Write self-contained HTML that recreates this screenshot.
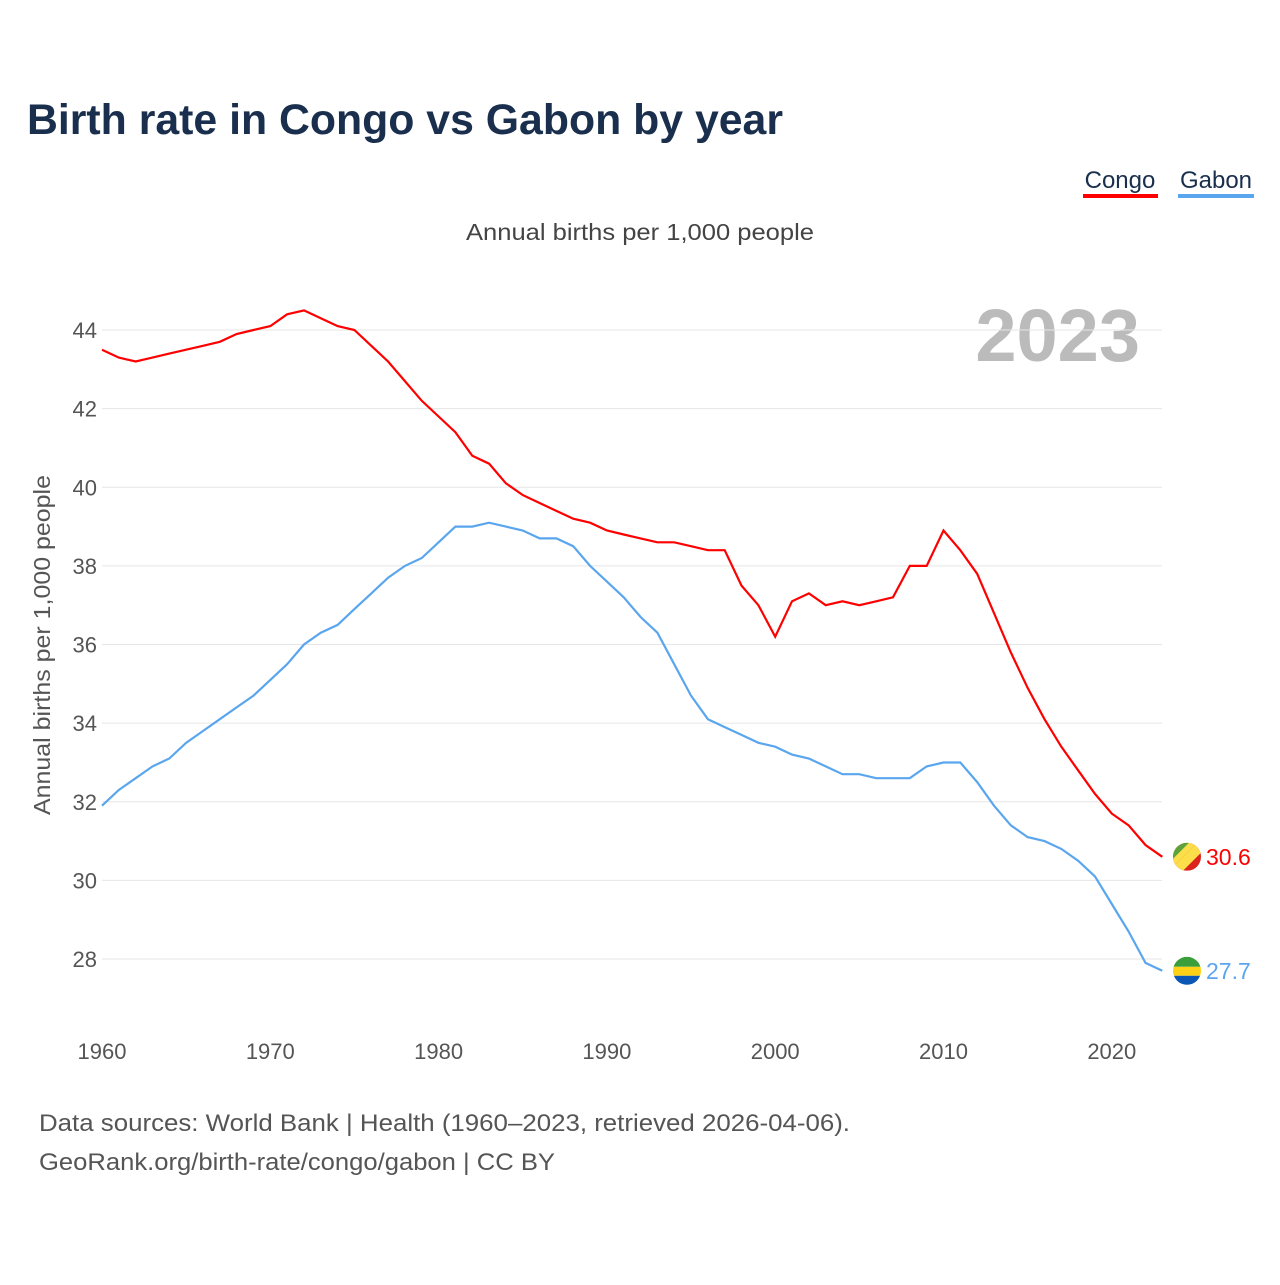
<!DOCTYPE html>
<html><head><meta charset="utf-8"><style>
body{margin:0;background:#fff;font-family:"Liberation Sans",sans-serif}
</style></head><body>
<svg width="1280" height="1280" viewBox="0 0 1280 1280" xmlns="http://www.w3.org/2000/svg" font-family="Liberation Sans, sans-serif">
<text x="27" y="134" font-size="43" font-weight="bold" fill="#1a2f4d" textLength="756" lengthAdjust="spacingAndGlyphs">Birth rate in Congo vs Gabon by year</text>
<g><text x="1120" y="188" font-size="24" fill="#1a2f4d" text-anchor="middle">Congo</text><rect x="1083" y="194" width="75" height="4" fill="#f00"/></g>
<g><text x="1216" y="188" font-size="24" fill="#1a2f4d" text-anchor="middle">Gabon</text><rect x="1178" y="194" width="76" height="4" fill="#5aa6ee"/></g>
<text x="640" y="240" font-size="23" fill="#444" text-anchor="middle" textLength="348" lengthAdjust="spacingAndGlyphs">Annual births per 1,000 people</text>
<text x="1140" y="361" font-size="74" font-weight="bold" fill="#bbb" text-anchor="end">2023</text>
<text transform="translate(50,645) rotate(-90)" font-size="23" fill="#555" text-anchor="middle" textLength="340" lengthAdjust="spacingAndGlyphs">Annual births per 1,000 people</text>
<g id="grid"></g><g id="lines"></g>
<text x="39" y="1131" font-size="24" fill="#555" textLength="811" lengthAdjust="spacingAndGlyphs">Data sources: World Bank | Health (1960–2023, retrieved 2026-04-06).</text>
<text x="39" y="1170" font-size="24" fill="#555" textLength="516" lengthAdjust="spacingAndGlyphs">GeoRank.org/birth-rate/congo/gabon | CC BY</text>
</svg>
<script>
const years=[];for(let y=1960;y<=2023;y++)years.push(y);
const congo=[43.5,43.3,43.2,43.3,43.4,43.5,43.6,43.7,43.9,44.0,44.1,44.4,44.5,44.3,44.1,44.0,43.6,43.2,42.7,42.2,41.8,41.4,40.8,40.6,40.1,39.8,39.6,39.4,39.2,39.1,38.9,38.8,38.7,38.6,38.6,38.5,38.4,38.4,37.5,37.0,36.2,37.1,37.3,37.0,37.1,37.0,37.1,37.2,38.0,38.0,38.9,38.4,37.8,36.8,35.8,34.9,34.1,33.4,32.8,32.2,31.7,31.4,30.9,30.6];
const gabon=[31.9,32.3,32.6,32.9,33.1,33.5,33.8,34.1,34.4,34.7,35.1,35.5,36.0,36.3,36.5,36.9,37.3,37.7,38.0,38.2,38.6,39.0,39.0,39.1,39.0,38.9,38.7,38.7,38.5,38.0,37.6,37.2,36.7,36.3,35.5,34.7,34.1,33.9,33.7,33.5,33.4,33.2,33.1,32.9,32.7,32.7,32.6,32.6,32.6,32.9,33.0,33.0,32.5,31.9,31.4,31.1,31.0,30.8,30.5,30.1,29.4,28.7,27.9,27.7];
const yTicks=[28,30,32,34,36,38,40,42,44];
const xTicks=[1960,1970,1980,1990,2000,2010,2020];
const X=y=>102+(y-1960)*16.83, Y=v=>959-(v-28)*39.31;
const NS="http://www.w3.org/2000/svg";
const g=document.getElementById('grid'),L=document.getElementById('lines');
function mk(tag,at,p){const e=document.createElementNS(NS,tag);for(const k in at)e.setAttribute(k,at[k]);p.appendChild(e);return e;}
yTicks.forEach(t=>{
 const l=mk('line',{x1:102,x2:1162,y1:Y(t),y2:Y(t),stroke:'#e6e6e6','stroke-width':1},g);
 
 
 const tx=mk('text',{x:97,y:Y(t)+8,'font-size':22,fill:'#555','text-anchor':'end'},g);tx.textContent=t;
 
 
});
xTicks.forEach(t=>{
 const tx=mk('text',{x:X(t),y:1059,'font-size':22,fill:'#555','text-anchor':'middle'},g);tx.textContent=t;
 
 
});
function line(data,col,name){
 const d=data.map((v,i)=>(i?'L':'M')+X(years[i]).toFixed(1)+','+Y(v).toFixed(1)).join('');
 const p=mk('path',{d,fill:'none',stroke:col,'stroke-width':2.2},L);
 
 
}
line(congo,'#f00','congo-line');line(gabon,'#5aa6ee','gabon-line');
function endLabel(v,col,name,flag){
 const cx=1187,cy=Y(v);
 const fg=mk('g',{},L);
 
 
 const cp=mk('clipPath',{id:'c'+name},fg);
 mk('circle',{cx,cy,r:14},cp);
 const inner=mk('g',{'clip-path':'url(#c'+name+')'},fg);
 if(flag==='congo'){
  mk('rect',{x:cx-14,y:cy-14,width:28,height:28,fill:'#dc241f'},inner);
  mk('polygon',{points:`${cx-14},${cy-14} ${cx+10},${cy-14} ${cx-14},${cy+10}`,fill:'#fbde4a'},inner);
  mk('polygon',{points:`${cx-14},${cy-14} ${cx+2},${cy-14} ${cx-14},${cy+2}`,fill:'#5ca33a'},inner);
  mk('polygon',{points:`${cx+10},${cy-14} ${cx+14},${cy-14} ${cx+14},${cy-4} ${cx-4},${cy+14} ${cx-14},${cy+14} ${cx-14},${cy+10}`,fill:'#fbde4a'},inner);
 }else{
  mk('rect',{x:cx-14,y:cy-14,width:28,height:10,fill:'#3a9e3a'},inner);
  mk('rect',{x:cx-14,y:cy-4,width:28,height:9,fill:'#fcd116'},inner);
  mk('rect',{x:cx-14,y:cy+5,width:28,height:10,fill:'#0a57b5'},inner);
 }
 const t=mk('text',{x:1206,y:cy+8,'font-size':23,fill:col},L);t.textContent=v.toFixed(1);
 
 
}
endLabel(congo[congo.length-1],'#f00','congo','congo');
endLabel(gabon[gabon.length-1],'#5aa6ee','gabon','gabon');
</script>
</body></html>
